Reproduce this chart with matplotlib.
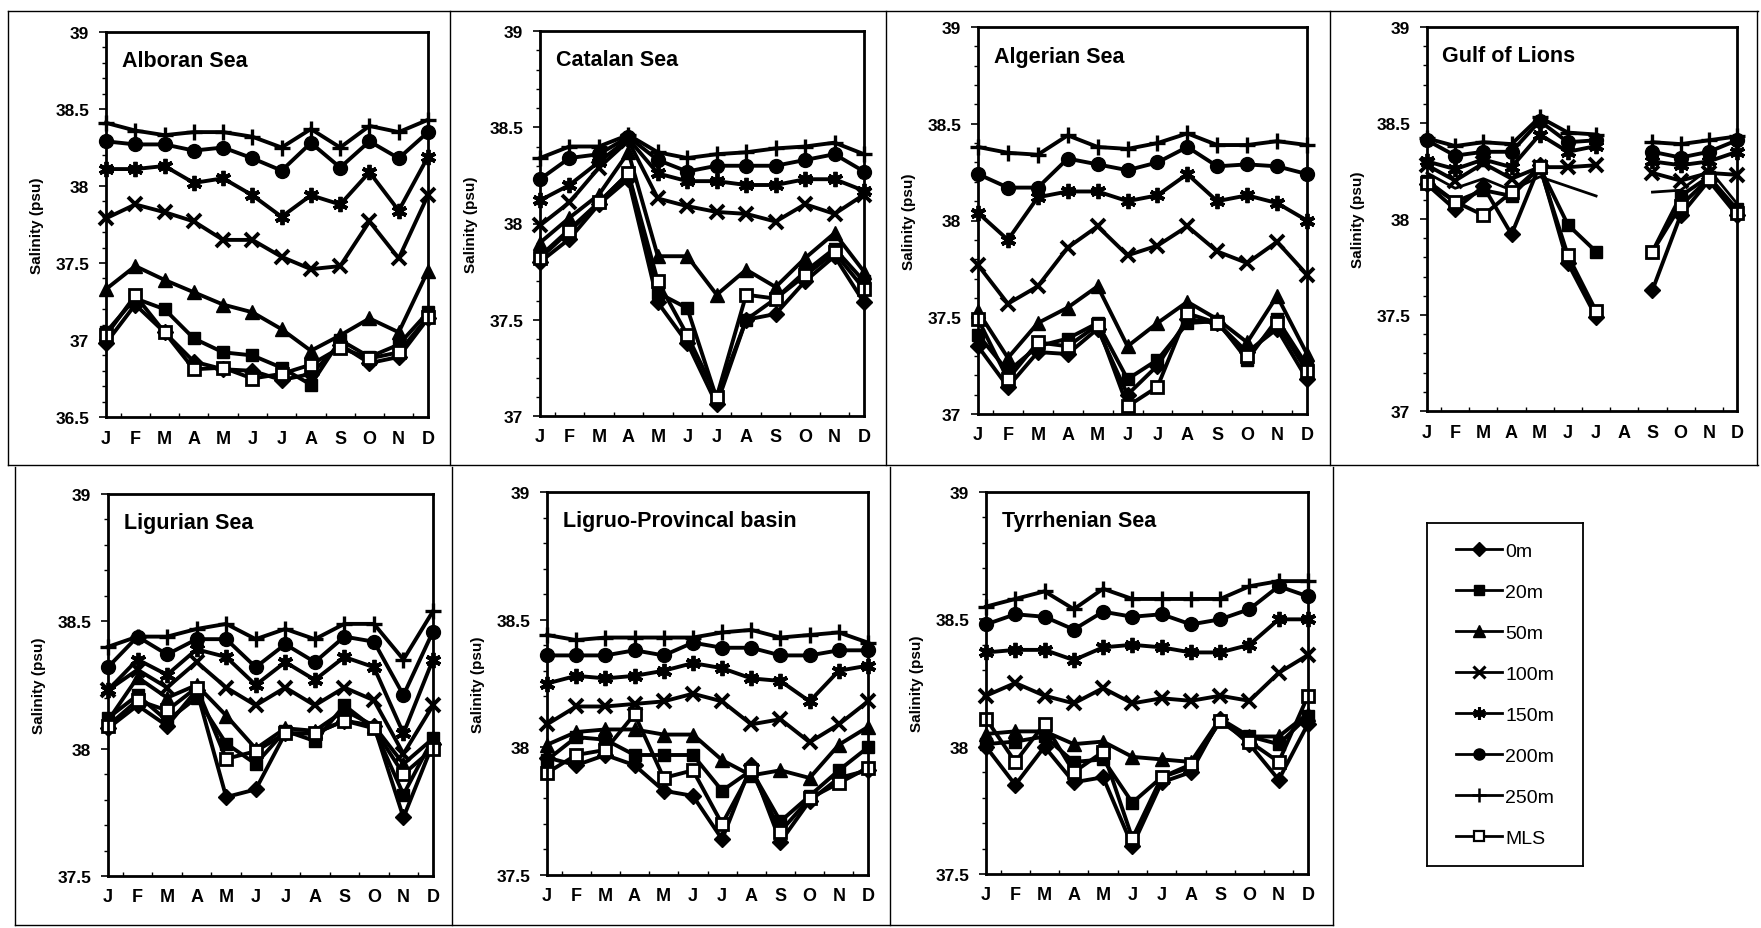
import numpy as np
import matplotlib
matplotlib.use("Agg")
import matplotlib.pyplot as plt
from matplotlib.lines import Line2D
from matplotlib.ticker import MultipleLocator

plt.rcParams['font.family'] = ['Liberation Sans', 'DejaVu Sans']

months = ["J", "F", "M", "A", "M", "J", "J", "A", "S", "O", "N", "D"]
depths = ["0m", "20m", "50m", "100m", "150m", "200m", "250m", "MLS"]
nan = np.nan

# Series order in each panel: 0m, 20m, 50m, 100m, 150m, 200m, 250m, MLS
alboran = [
    [36.98, 37.23, 37.05, 36.86, 36.81, 36.80, 36.74, 36.78, 36.97, 36.85, 36.89, 37.14],
    [37.05, 37.27, 37.20, 37.01, 36.92, 36.90, 36.82, 36.71, 37.00, 36.89, 36.97, 37.18],
    [37.33, 37.48, 37.39, 37.31, 37.23, 37.18, 37.07, 36.93, 37.03, 37.14, 37.05, 37.45],
    [37.79, 37.88, 37.83, 37.77, 37.65, 37.65, 37.54, 37.46, 37.48, 37.77, 37.53, 37.94],
    [38.11, 38.11, 38.13, 38.02, 38.05, 37.94, 37.80, 37.94, 37.88, 38.09, 37.84, 38.19],
    [38.29, 38.27, 38.27, 38.23, 38.25, 38.18, 38.10, 38.28, 38.12, 38.29, 38.18, 38.35],
    [38.41, 38.36, 38.33, 38.35, 38.35, 38.32, 38.25, 38.37, 38.25, 38.39, 38.35, 38.43],
    [37.03, 37.29, 37.05, 36.81, 36.82, 36.75, 36.78, 36.84, 36.95, 36.88, 36.92, 37.15],
]
catalan = [
    [37.80, 37.92, 38.10, 38.23, 37.59, 37.38, 37.06, 37.50, 37.53, 37.70, 37.83, 37.59],
    [37.83, 37.97, 38.11, 38.26, 37.64, 37.56, 37.09, 37.50, 37.61, 37.75, 37.87, 37.70],
    [37.90, 38.03, 38.15, 38.37, 37.83, 37.83, 37.63, 37.76, 37.67, 37.82, 37.95, 37.75],
    [37.99, 38.11, 38.29, 38.43, 38.13, 38.09, 38.06, 38.05, 38.01, 38.10, 38.05, 38.15],
    [38.12, 38.20, 38.32, 38.44, 38.26, 38.22, 38.22, 38.20, 38.20, 38.23, 38.23, 38.17],
    [38.23, 38.34, 38.36, 38.45, 38.33, 38.27, 38.30, 38.30, 38.30, 38.33, 38.36, 38.27],
    [38.34, 38.40, 38.40, 38.46, 38.37, 38.34, 38.36, 38.37, 38.39, 38.40, 38.42, 38.36],
    [37.82, 37.96, 38.11, 38.26, 37.70, 37.42, 37.10, 37.63, 37.61, 37.73, 37.85, 37.66],
]
algerian = [
    [37.35, 37.14, 37.32, 37.31, 37.44, 37.10, 37.25, 37.49, 37.47, 37.32, 37.44, 37.18],
    [37.41, 37.22, 37.35, 37.39, 37.47, 37.18, 37.28, 37.47, 37.48, 37.28, 37.49, 37.25],
    [37.53, 37.29, 37.47, 37.55, 37.66, 37.35, 37.47, 37.58, 37.49, 37.37, 37.61, 37.31],
    [37.77, 37.57, 37.66, 37.86, 37.97, 37.82, 37.87, 37.97, 37.84, 37.78, 37.89, 37.72],
    [38.04, 37.90, 38.12, 38.15, 38.15, 38.10, 38.13, 38.24, 38.10, 38.13, 38.09, 38.00],
    [38.24, 38.17, 38.17, 38.32, 38.29, 38.26, 38.30, 38.38, 38.28, 38.29, 38.28, 38.24],
    [38.38, 38.35, 38.34, 38.44, 38.38, 38.37, 38.40, 38.45, 38.39, 38.39, 38.41, 38.39],
    [37.49, 37.18, 37.37, 37.35, 37.46, 37.04, 37.14, 37.52, 37.47, 37.30, 37.47, 37.22],
]
gulf_lions = [
    [38.18, 38.05, 38.17, 37.92, 38.28, 37.77, 37.49, nan, 37.63, 38.02, 38.20, 38.02],
    [38.20, 38.09, 38.15, 38.12, 38.27, 37.97, 37.83, nan, 37.83, 38.12, 38.22, 38.05],
    [38.24, 38.16, 38.21, 38.15, 38.22, 38.17, 38.12, nan, 38.14, 38.15, 38.26, 38.08],
    [38.28, 38.20, 38.29, 38.21, 38.27, 38.27, 38.28, nan, 38.24, 38.20, 38.24, 38.23],
    [38.30, 38.26, 38.31, 38.27, 38.44, 38.35, 38.38, nan, 38.30, 38.28, 38.30, 38.35],
    [38.41, 38.33, 38.35, 38.35, 38.51, 38.40, 38.41, nan, 38.35, 38.32, 38.35, 38.41],
    [38.42, 38.38, 38.40, 38.39, 38.53, 38.45, 38.44, nan, 38.40, 38.39, 38.41, 38.43],
    [38.19, 38.09, 38.02, 38.14, 38.27, 37.81, 37.52, nan, 37.83, 38.07, 38.21, 38.03],
]
ligurian = [
    [38.08, 38.17, 38.09, 38.23, 37.81, 37.84, 38.06, 38.06, 38.11, 38.09, 37.73, 38.02],
    [38.12, 38.21, 38.11, 38.20, 38.02, 37.94, 38.07, 38.03, 38.17, 38.08, 37.82, 38.04],
    [38.11, 38.28, 38.20, 38.25, 38.13, 38.00, 38.08, 38.07, 38.15, 38.09, 37.94, 38.04],
    [38.23, 38.31, 38.24, 38.34, 38.24, 38.17, 38.24, 38.17, 38.24, 38.19, 37.98, 38.17],
    [38.23, 38.35, 38.29, 38.39, 38.36, 38.25, 38.34, 38.27, 38.36, 38.32, 38.06, 38.35],
    [38.32, 38.44, 38.37, 38.43, 38.43, 38.32, 38.41, 38.34, 38.44, 38.42, 38.21, 38.46],
    [38.40, 38.44, 38.44, 38.47, 38.49, 38.43, 38.47, 38.43, 38.49, 38.49, 38.35, 38.54],
    [38.09, 38.19, 38.15, 38.24, 37.96, 37.99, 38.06, 38.06, 38.11, 38.08, 37.90, 38.00],
]
ligruo_provincal = [
    [37.96, 37.93, 37.97, 37.93, 37.83, 37.81, 37.64, 37.93, 37.63, 37.79, 37.88, 37.91],
    [37.95, 38.04, 38.03, 37.97, 37.97, 37.97, 37.83, 37.91, 37.71, 37.81, 37.91, 38.00],
    [38.01, 38.06, 38.07, 38.07, 38.05, 38.05, 37.95, 37.89, 37.91, 37.88, 38.01, 38.08],
    [38.09, 38.16, 38.16, 38.17, 38.18, 38.21, 38.18, 38.09, 38.11, 38.02, 38.09, 38.18],
    [38.25, 38.28, 38.27, 38.28, 38.30, 38.33, 38.31, 38.27, 38.26, 38.18, 38.30, 38.32],
    [38.36, 38.36, 38.36, 38.38, 38.36, 38.41, 38.39, 38.39, 38.36, 38.36, 38.38, 38.38],
    [38.44, 38.42, 38.43, 38.43, 38.43, 38.43, 38.45, 38.46, 38.43, 38.44, 38.45, 38.41],
    [37.90, 37.97, 37.99, 38.13, 37.88, 37.91, 37.70, 37.91, 37.67, 37.80, 37.86, 37.92],
]
tyrrhenian = [
    [38.00, 37.85, 38.00, 37.86, 37.88, 37.61, 37.86, 37.90, 38.11, 38.01, 37.87, 38.09],
    [38.01, 38.02, 38.04, 37.94, 37.95, 37.78, 37.88, 37.92, 38.10, 38.04, 38.01, 38.12],
    [38.05, 38.06, 38.06, 38.01, 38.02, 37.96, 37.95, 37.94, 38.11, 38.04, 38.04, 38.13],
    [38.20, 38.25, 38.20, 38.17, 38.23, 38.17, 38.19, 38.18, 38.20, 38.18, 38.29, 38.36],
    [38.37, 38.38, 38.38, 38.34, 38.39, 38.40, 38.39, 38.37, 38.37, 38.40, 38.50, 38.50],
    [38.48, 38.52, 38.51, 38.46, 38.53, 38.51, 38.52, 38.48, 38.50, 38.54, 38.63, 38.59],
    [38.55, 38.58, 38.61, 38.54, 38.62, 38.58, 38.58, 38.58, 38.58, 38.63, 38.65, 38.65],
    [38.11, 37.94, 38.09, 37.90, 37.98, 37.64, 37.88, 37.93, 38.10, 38.02, 37.94, 38.20],
]

panel_titles = ["Alboran Sea", "Catalan Sea", "Algerian Sea", "Gulf of Lions",
                "Ligurian Sea", "Ligruo-Provincal basin", "Tyrrhenian Sea"]
panel_data = [alboran, catalan, algerian, gulf_lions, ligurian, ligruo_provincal, tyrrhenian]
panel_ylims = [(36.5, 39), (37, 39), (37, 39), (37, 39), (37.5, 39), (37.5, 39), (37.5, 39)]

# axes boxes in pixels: left, right, top, bottom
W, H = 1761, 929
boxes_px = [
    (106, 428, 33, 418),
    (540, 864, 32, 417),
    (978, 1307, 28, 415),
    (1427, 1737, 28, 412),
    (108, 433, 495, 877),
    (547, 868, 493, 876),
    (986, 1308, 493, 875),
]

styles = [
    dict(marker='D', ms=8.5, mfc='black', mec='black'),
    dict(marker='s', ms=8.5, mfc='black', mec='black'),
    dict(marker='^', ms=9.5, mfc='black', mec='black'),
    dict(marker='x', ms=10, mec='black', mew=2.8),
    dict(marker=(6, 2, 0), ms=11, mec='black', mew=2.8),
    dict(marker='o', ms=10, mfc='black', mec='black'),
    dict(marker='+', ms=12, mec='black', mew=2.4),
    dict(marker='s', ms=8.5, mfc='white', mec='black', mew=2.0),
]
legend_styles = [
    dict(marker='D', ms=7, mfc='black', mec='black'),
    dict(marker='s', ms=7, mfc='black', mec='black'),
    dict(marker='^', ms=8, mfc='black', mec='black'),
    dict(marker='x', ms=8, mec='black', mew=2.2),
    dict(marker=(6, 2, 0), ms=9, mec='black', mew=2.2),
    dict(marker='o', ms=8, mfc='black', mec='black'),
    dict(marker='+', ms=10, mec='black', mew=1.8),
    dict(marker='s', ms=7, mfc='white', mec='black', mew=1.6),
]
# series drawn without markers in a given panel
no_marker = {("Gulf of Lions", "50m")}

fig = plt.figure(figsize=(W / 100, H / 100), dpi=100)
fig.patch.set_facecolor('white')

x = np.arange(12)
for title, data, ylim, (l, r, t, b) in zip(panel_titles, panel_data, panel_ylims, boxes_px):
    ax = fig.add_axes([l / W, 1 - b / H, (r - l) / W, (b - t) / H])
    for name, vals, st in zip(depths, data, styles):
        st = dict(st)
        lw = 2.8
        if (title, name) in no_marker:
            st['marker'] = None
            lw = 2.0
        ax.plot(x, vals, color='black', lw=lw, clip_on=False, **st)
    ax.set_xlim(0, 11)
    ax.set_ylim(*ylim)
    ax.yaxis.set_major_locator(MultipleLocator(0.5))
    ax.yaxis.set_minor_locator(MultipleLocator(0.1))
    ax.set_yticklabels([f"{v:g}" for v in ax.get_yticks()])
    ax.set_xticks(x)
    ax.set_xticklabels(months)
    ax.set_xticks(np.arange(0.5, 11, 1), minor=True)
    ax.tick_params(axis='y', which='major', direction='out', length=5, width=1.2,
                   labelsize=12.5, pad=7)
    ax.tick_params(axis='y', which='minor', direction='out', length=3, width=1)
    ax.tick_params(axis='x', which='major', length=0, labelsize=13, pad=9)
    ax.tick_params(axis='x', which='minor', direction='in', length=3, width=1)
    for lab in ax.get_xticklabels() + ax.get_yticklabels():
        lab.set_fontweight('bold')
    for sp in ax.spines.values():
        sp.set_linewidth(2.0)
        sp.set_color('black')
    ax.set_ylabel("Salinity (psu)", fontsize=11, fontweight='bold', labelpad=8)
    ax.text(0.05, 0.925, title, transform=ax.transAxes, fontsize=15.5,
            fontweight='bold', ha='left', va='center')

# legend panel
ll, lr, lt, lb = 1427, 1583, 524, 867
lax = fig.add_axes([ll / W, 1 - lb / H, (lr - ll) / W, (lb - lt) / H])
lax.set_xticks([])
lax.set_yticks([])
for sp in lax.spines.values():
    sp.set_linewidth(1.3)
handles = [Line2D([0], [0], color='black', lw=2.0, **st) for st in legend_styles]
leg = lax.legend(handles, depths, loc='center', frameon=False, fontsize=14,
                 handlelength=2.4, labelspacing=1.2, handletextpad=0.15,
                 borderaxespad=0.0)

# cell frame lines (figure pixels)
def hline(y, x0, x1):
    fig.add_artist(Line2D([x0 / W, x1 / W], [1 - y / H, 1 - y / H], color='black', lw=1.0))

def vline(xp, y0, y1):
    fig.add_artist(Line2D([xp / W, xp / W], [1 - y0 / H, 1 - y1 / H], color='black', lw=1.0))

hline(12, 8, 1758)
hline(466, 8, 1758)
hline(926, 15, 1333)
for xp in (8, 450, 886, 1330, 1757):
    vline(xp, 12, 466)
for xp in (15, 452, 890, 1333):
    vline(xp, 468, 926)

fig.savefig("out.png", dpi=100)
